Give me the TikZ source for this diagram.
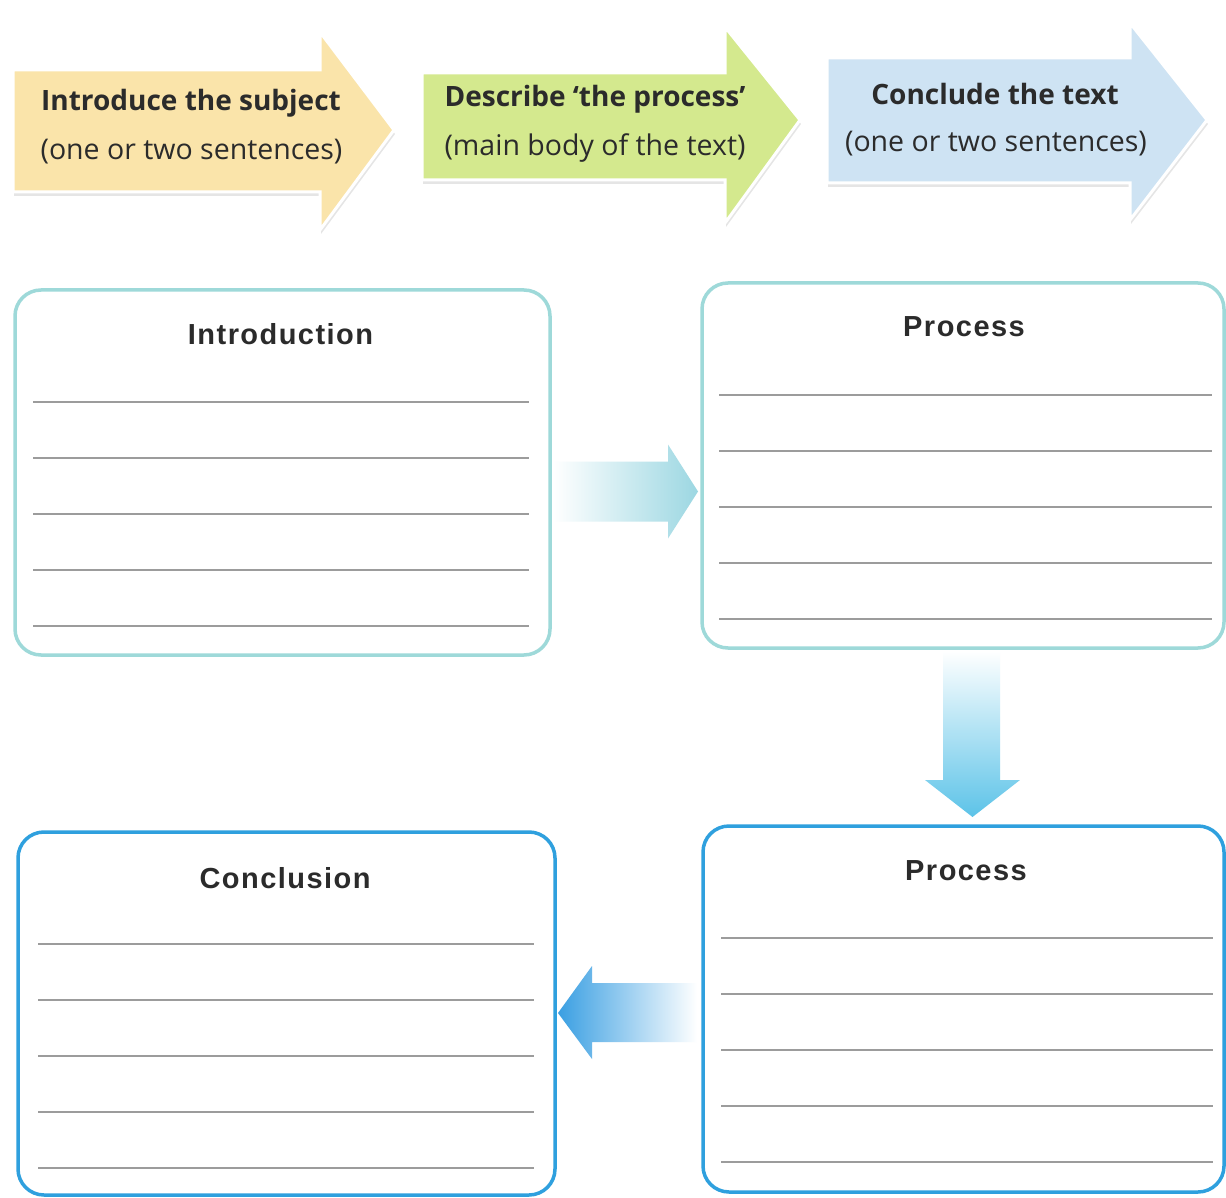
\documentclass[tikz,border=0pt]{standalone}
\usepackage{fontspec}
\setmainfont{Open Sans}
\newfontfamily\titlefont[LetterSpace=5]{Liberation Sans}
\usetikzlibrary{calc,shadows}
\definecolor{arrY}{HTML}{FAE4AA}
\definecolor{arrG}{HTML}{D4E98E}
\definecolor{arrB}{HTML}{CEE3F3}
\definecolor{tealB}{HTML}{9ED9D9}
\definecolor{blueB}{HTML}{2FA0DE}
\definecolor{lineG}{HTML}{9C9C9C}
\definecolor{txt}{HTML}{2B2B2B}
\definecolor{cT}{HTML}{9CD7E2}
\definecolor{cD}{HTML}{5CC3E8}
\definecolor{cL}{HTML}{3A9FE2}
\begin{document}
\begin{tikzpicture}[x=1pt,y=-1pt,
  bigarrow/.style={draw=white, line width=3,
    drop shadow={shadow xshift=1pt, shadow yshift=-4pt, opacity=0.10, fill=black}},
  headline/.style={text=txt, inner sep=0, font=\bfseries\fontsize{28}{30}\selectfont},
  subline/.style={text=txt, inner sep=0, font=\fontsize{28.5}{30}\selectfont},
  box/.style={line width=3.5, rounded corners=26, fill=white, inner sep=0, outer sep=0},
  boxtitle/.style={text=txt, inner sep=0, font=\titlefont\bfseries\fontsize{29}{31}\selectfont},
  rule/.style={draw=lineG, line width=1.5}
]
\useasboundingbox (0,0) rectangle (1226,1198);
\fill[white] (0,0) rectangle (1226,1198);

% top arrows
\path[bigarrow, fill=arrY] (13,70) -- (320,70) -- (320,32) -- (394,130) -- (320,230) -- (320,192) -- (13,192) -- cycle;
\path[bigarrow, fill=arrG] (422,73) -- (725,73) -- (725,27) -- (800,120) -- (725,223) -- (725,180) -- (422,180) -- cycle;
\path[bigarrow, fill=arrB] (827,58) -- (1130,58) -- (1130,23) -- (1207,120) -- (1130,220) -- (1130,183) -- (827,183) -- cycle;

\node[headline] (t1a) at (191,103) {Introduce the subject};
\node[subline]  (t1b) at (191.5,152) {(one or two sentences)};
\node[headline] (t2a) at (595,99) {Describe ‘the process’};
\node[subline]  (t2b) at (595,148) {(main body of the text)};
\node[headline] (t3a) at (995,94) {Conclude the text};
\node[subline]  (t3b) at (996,144) {(one or two sentences)};

% boxes
\node[box, draw=tealB, minimum width=535, minimum height=365] (intro) at (282.5,472.5) {};
\node[box, draw=tealB, minimum width=522, minimum height=365] (proc1) at (963,465.5) {};
\node[box, draw=blueB, minimum width=521, minimum height=366] (proc2) at (963.5,1009) {};
\node[box, draw=blueB, minimum width=537, minimum height=363] (concl) at (286.5,1013.5) {};

\node[boxtitle] (introT) at ($(intro.north)+(-2,44)$) {Introduction};
\node[boxtitle] (proc1T) at ($(proc1.north)+(1,44)$) {Process};
\node[boxtitle] (proc2T) at ($(proc2.north)+(2.5,45)$) {Process};
\node[boxtitle] (conclT) at ($(concl.north)+(-1.5,46)$) {Conclusion};

\foreach \b/\l/\r in {intro/18/21, proc1/17/12, proc2/18/11, concl/20/21}{
  \foreach \k in {0,...,4}{
    \draw[rule] ($(\b.north west)+(\l,112+56*\k)$) -- ($(\b.north east)+(-\r,112+56*\k)$);
  }
}

% connectors
\begin{scope}[shift={(intro.east)}]
  \shade[left color=white, right color=cT]
    (3,-11) -- (118,-11) -- (118,-28) -- (148,19) -- (118,66) -- (118,49) -- (3,49) -- cycle;
\end{scope}
\begin{scope}[shift={(proc1.south)}]
  \shade[top color=white, bottom color=cD]
    (-20,3) -- (37,3) -- (37,132) -- (57,132) -- (9.5,169) -- (-38,132) -- (-20,132) -- cycle;
\end{scope}
\begin{scope}[shift={(proc2.west)}]
  \shade[left color=cL, right color=white]
    (-6,-26) -- (-111,-26) -- (-111,-43) -- (-145,4) -- (-111,50) -- (-111,33) -- (-6,33) -- cycle;
\end{scope}
\end{tikzpicture}
\end{document}
